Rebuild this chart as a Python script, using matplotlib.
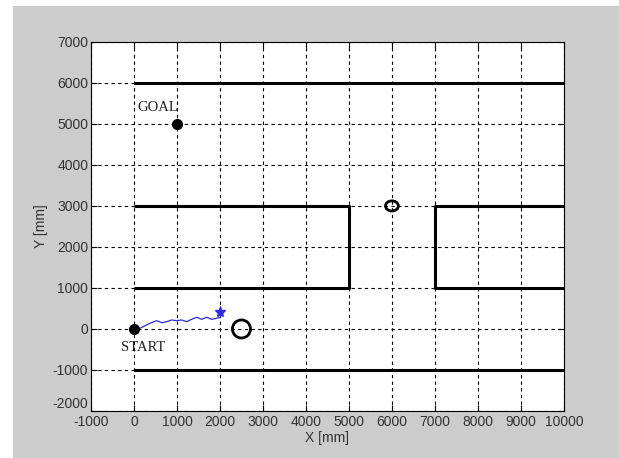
import matplotlib
matplotlib.use("Agg")
import matplotlib.pyplot as plt
from matplotlib.patches import Ellipse, Rectangle

plt.rcParams["axes.unicode_minus"] = False

# walls of the corridor map, each as (x list, y list) in mm
walls = [
    ([0, 10000], [6000, 6000]),
    ([0, 5000, 5000, 0], [3000, 3000, 1000, 1000]),
    ([10000, 7000, 7000, 10000], [3000, 3000, 1000, 1000]),
    ([0, 10000], [-1000, -1000]),
]

# obstacles: centre x, centre y, width, height (mm)
obstacles = [
    (6000, 3000, 300, 245),
    (2500, 0, 420, 440),
]

start = (0, 0)
goal = (1000, 5000)

# robot path so far
path_x = [0, 140, 372, 527, 644, 760, 876, 992, 1109, 1225, 1341, 1457,
          1574, 1690, 1806, 1922, 2016, 2000]
path_y = [0, 17, 139, 203, 154, 178, 220, 203, 220, 178, 236, 285,
          236, 285, 236, 260, 285, 382]
robot = (2000, 420)

xticks = list(range(-1000, 10001, 1000))
yticks = list(range(-2000, 7001, 1000))

sans = ["Liberation Sans Narrow", "Liberation Sans"]
txt = "#333333"

fig = plt.figure(figsize=(6.19, 4.58), dpi=100, facecolor="white")
fig.patches.append(Rectangle((13 / 619, 0), 1, 1 - 6 / 458, transform=fig.transFigure,
                             facecolor="#cccccc", edgecolor="none", zorder=-10))
ax = fig.add_axes([0.147, 0.1026, 0.764, 0.806])

for wx, wy in walls:
    ax.plot(wx, wy, color="black", linewidth=2.2, solid_capstyle="butt")

for cx, cy, w, h in obstacles:
    ax.add_patch(Ellipse((cx, cy), w, h, facecolor="none", edgecolor="black", linewidth=2))

ax.plot(path_x, path_y, color="#2a2ae6", linewidth=0.9)
ax.plot(*robot, marker="*", color="#2a2ae6", markersize=8)

ax.plot(*start, "o", color="black", markersize=7)
ax.plot(*goal, "o", color="black", markersize=7)
ax.text(90, 5390, "GOAL", family="Liberation Serif", fontsize=10.5, va="center", color="#222222")
ax.text(-300, -440, "START", family="Liberation Serif", fontsize=10.5, va="center", color="#222222")

ax.set_xlim(-1000, 10000)
ax.set_ylim(-2000, 7000)
ax.set_xticks(xticks)
ax.set_yticks(yticks)
ax.tick_params(direction="in", top=True, right=True, labelsize=10, length=4,
               labelcolor=txt, pad=2)
ax.tick_params(axis="x", pad=3)
for lab in ax.get_xticklabels() + ax.get_yticklabels():
    lab.set_family(sans)
# lift the lowest y label clear of the first x label
ax.get_yticklabels()[0].set_va("bottom")
ax.grid(True, color="black", linestyle=(0, (3, 3)), linewidth=0.8)
ax.set_axisbelow(True)
ax.set_xlabel("X [mm]", family=sans, fontsize=10, labelpad=1, color=txt)
ax.set_ylabel("Y [mm]", family=sans, fontsize=10, labelpad=3, color=txt)

fig.savefig("out.png", dpi=100)
